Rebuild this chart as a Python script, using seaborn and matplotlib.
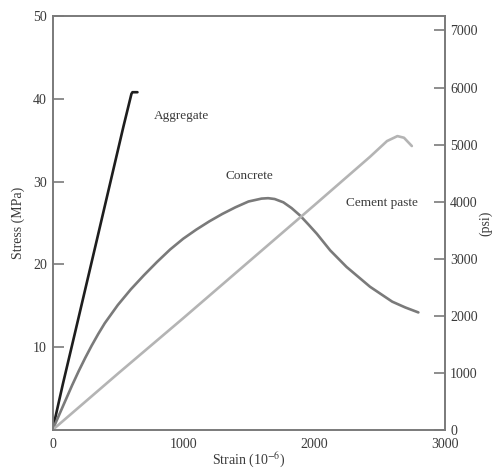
import matplotlib
matplotlib.use("Agg")
import matplotlib.pyplot as plt
import seaborn as sns
import pandas as pd

# ---- data (strain in 1e-6, stress in MPa) ----
agg_strain = [0, 80, 170, 340, 542, 604, 612, 650]
agg_stress = [0, 5.6, 11.6, 23.0, 36.6, 40.6, 40.8, 40.8]

con_strain = [0, 50, 100, 150, 200, 250, 300, 350, 400, 500, 600, 700, 800, 900, 1000,
              1100, 1200, 1300, 1400, 1500, 1600, 1650, 1700, 1767, 1830, 1895, 1960,
              2023, 2125, 2250, 2430, 2600, 2700, 2800]
con_stress = [0, 1.8, 3.6, 5.4, 7.1, 8.7, 10.2, 11.6, 12.9, 15.1, 17.0, 18.7, 20.3, 21.8, 23.1,
              24.2, 25.2, 26.1, 26.9, 27.6, 27.95, 28.0, 27.9, 27.5, 26.8, 25.9, 24.8,
              23.7, 21.7, 19.7, 17.3, 15.5, 14.8, 14.2]

cem_strain = [0, 500, 1000, 1500, 2000, 2430, 2560, 2640, 2690, 2750]
cem_stress = [0, 6.8, 13.5, 20.3, 27.1, 33.0, 34.9, 35.5, 35.3, 34.3]

series_names = ["Aggregate", "Concrete", "Cement paste"]
label_pos = {"Aggregate": (985, 37.9), "Concrete": (1510, 30.7), "Cement paste": (2520, 27.4)}

MPA_TO_PSI = 145.038

df = pd.concat([
    pd.DataFrame({"strain": agg_strain, "stress": agg_stress, "material": "Aggregate"}),
    pd.DataFrame({"strain": con_strain, "stress": con_stress, "material": "Concrete"}),
    pd.DataFrame({"strain": cem_strain, "stress": cem_stress, "material": "Cement paste"}),
], ignore_index=True)

sns.set_style("white")
plt.rcParams["font.family"] = ["Liberation Serif", "DejaVu Serif"]
plt.rcParams["mathtext.fontset"] = "stix"

fig = plt.figure(figsize=(4.94, 4.72), dpi=100)
ax = fig.add_axes([0.1063, 0.089, 0.7935, 0.877])

palette = {"Aggregate": "#1e1e1e", "Concrete": "#7a7a7a", "Cement paste": "#b4b4b4"}
sns.lineplot(data=df, x="strain", y="stress", hue="material", palette=palette,
             sort=False, estimator=None, linewidth=1.9, legend=False, ax=ax)
for ln in ax.get_lines():
    ln.set_solid_joinstyle("round")
    ln.set_solid_capstyle("round")

ax.set_xlim(0, 3000)
ax.set_ylim(0, 50)
ax.set_xticks([0, 1000, 2000, 3000])
ax.set_yticks([10, 20, 30, 40, 50])
spine_col = "#7a7a7a"
text_col = "#3a3a3a"
for s in ax.spines.values():
    s.set_color(spine_col)
    s.set_linewidth(1.2)
ax.tick_params(axis="both", direction="in", length=8, width=1.2, color=spine_col,
               labelsize=10, labelcolor=text_col, pad=4)
ax.tick_params(axis="x", pad=6)
ax.set_xlabel("Strain (10$^{-6}$)", fontsize=10, color=text_col, labelpad=0)
ax.set_ylabel("Stress (MPa)", fontsize=10, color=text_col, labelpad=6)

for name in series_names:
    x, y = label_pos[name]
    ax.text(x, y, name, fontsize=9.5, color=text_col, ha="center", va="center")

ax2 = ax.twinx()
ax2.set_ylim(0, 50 * MPA_TO_PSI)
ax2.set_yticks([0, 1000, 2000, 3000, 4000, 5000, 6000, 7000])
for s in ax2.spines.values():
    s.set_color(spine_col)
    s.set_linewidth(1.2)
ax2.tick_params(axis="y", direction="in", length=8, width=1.2, color=spine_col,
                labelsize=10, labelcolor=text_col, pad=4)
ax2.set_ylabel("(psi)", fontsize=10, color=text_col, labelpad=1, rotation=90)
ax2.grid(False)

fig.savefig("out.png", dpi=100)
